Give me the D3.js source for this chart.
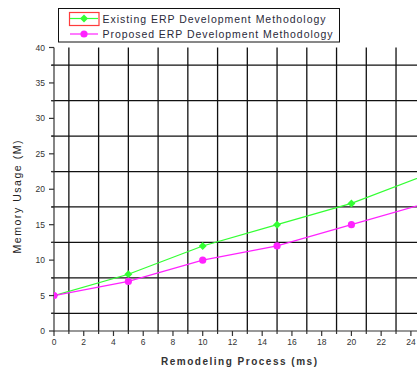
<!DOCTYPE html>
<html><head><meta charset="utf-8">
<script src="https://cdn.jsdelivr.net/npm/d3@7"></script>
<style>body{margin:0;background:#fff}svg{display:block}text{font-family:"Liberation Sans",Arial,sans-serif}</style>
</head><body><svg id="c" width="417" height="369"></svg>
<script>
const xValues = [0, 5, 10, 15, 20, 25];
const existing = [5, 8, 12, 15, 18, 22];
const proposed = [5, 7, 10, 12, 15, 18];
const seriesNames = ["Existing ERP Development Methodology", "Proposed ERP Development Methodology"];
const seriesColors = ["#33ff33", "#ff22ff"];
const xTicks = [0, 2, 4, 6, 8, 10, 12, 14, 16, 18, 20, 22, 24];
const yTicks = [0, 5, 10, 15, 20, 25, 30, 35, 40];
const xGrid = [1, 3, 5, 7, 9, 11, 13, 15, 17, 19, 21, 23];
const yGrid = [2.5, 7.5, 12.5, 17.5, 22.5, 27.5, 32.5, 37.5];

const svg = d3.select("#c");
const x = d3.scaleLinear().domain([0, 24]).range([54, 410.9]);
const y = d3.scaleLinear().domain([0, 40]).range([331, 47.5]);
const xr = 417;

svg.append("clipPath").attr("id", "pc").append("rect")
  .attr("x", 54).attr("y", 44).attr("width", xr - 54).attr("height", 290);

// grid
const g = svg.append("g");
g.selectAll(".vg").data(xGrid).join("line")
  .attr("x1", d => x(d)).attr("x2", d => x(d)).attr("y1", y(40)).attr("y2", y(0))
  .attr("stroke", "#111").attr("stroke-width", 1.3);
g.selectAll(".hg").data(yGrid).join("line")
  .attr("x1", 51.5).attr("x2", xr).attr("y1", d => y(d)).attr("y2", d => y(d))
  .attr("stroke", "#111").attr("stroke-width", 1.3);

// axes
const ax = svg.append("g").attr("stroke", "#333").attr("stroke-width", 1.2);
ax.append("line").attr("x1", 54).attr("x2", 54).attr("y1", y(40)).attr("y2", y(0) + 0.6);
ax.append("line").attr("x1", 54).attr("x2", xr).attr("y1", y(0)).attr("y2", y(0));
yTicks.forEach(v => ax.append("line").attr("x1", 49).attr("x2", 54).attr("y1", y(v)).attr("y2", y(v)));
yGrid.forEach(v => ax.append("line").attr("x1", 51).attr("x2", 54).attr("y1", y(v)).attr("y2", y(v)));
xTicks.forEach(v => ax.append("line").attr("x1", x(v)).attr("x2", x(v)).attr("y1", y(0)).attr("y2", y(0) + 5));
xGrid.forEach(v => ax.append("line").attr("x1", x(v)).attr("x2", x(v)).attr("y1", y(0)).attr("y2", y(0) + 3));

svg.selectAll(".yl").data(yTicks).join("text")
  .attr("x", 45).attr("y", d => y(d) + 3).attr("text-anchor", "end")
  .attr("font-size", 8.5).attr("fill", "#333").text(d => d);
svg.selectAll(".xl").data(xTicks).join("text")
  .attr("x", d => x(d)).attr("y", 345).attr("text-anchor", "middle")
  .attr("font-size", 8.5).attr("fill", "#333").text(d => d);

svg.append("text").attr("x", 239).attr("y", 365).attr("text-anchor", "middle")
  .attr("font-size", 10).attr("font-weight", "bold").attr("fill", "#333").attr("textLength", 156).attr("lengthAdjust", "spacing")
  .text("Remodeling Process (ms)");
svg.append("text").attr("transform", "translate(21,197) rotate(-90)").attr("text-anchor", "middle")
  .attr("font-size", 10.5).attr("fill", "#222").attr("textLength", 113).attr("lengthAdjust", "spacing")
  .text("Memory Usage (M)");

// series
const data = [existing, proposed];
const plot = svg.append("g").attr("clip-path", "url(#pc)");
const line = d3.line().x((d, i) => x(xValues[i])).y(d => y(d));
data.forEach((s, k) => {
  plot.append("path").attr("d", line(s)).attr("fill", "none")
    .attr("stroke", seriesColors[k]).attr("stroke-width", 1.2);
});
plot.selectAll(".m0").data(existing).join("path")
  .attr("transform", (d, i) => `translate(${x(xValues[i])},${y(d)})`)
  .attr("d", d3.symbol(d3.symbolDiamond2, 40)).attr("fill", seriesColors[0]);
plot.selectAll(".m1").data(proposed).join("circle")
  .attr("cx", (d, i) => x(xValues[i])).attr("cy", d => y(d)).attr("r", 3.6)
  .attr("fill", seriesColors[1]);

// legend
const lg = svg.append("g");
lg.append("rect").attr("x", 58.5).attr("y", 8.5).attr("width", 281).attr("height", 33.5)
  .attr("fill", "#fff").attr("stroke", "#111").attr("stroke-width", 1);
lg.append("rect").attr("x", 69.5).attr("y", 12.5).attr("width", 29.5).attr("height", 13)
  .attr("fill", "none").attr("stroke", "#ff3b3b").attr("stroke-width", 1.2);
const rowsY = [18.5, 34];
seriesNames.forEach((n, k) => {
  lg.append("line").attr("x1", 70).attr("x2", 98).attr("y1", rowsY[k]).attr("y2", rowsY[k])
    .attr("stroke", seriesColors[k]).attr("stroke-width", 1.2);
  if (k === 0) lg.append("path").attr("transform", `translate(84,${rowsY[k]})`)
    .attr("d", d3.symbol(d3.symbolDiamond2, 40)).attr("fill", seriesColors[k]);
  else lg.append("circle").attr("cx", 84).attr("cy", rowsY[k]).attr("r", 3.6).attr("fill", seriesColors[k]);
  lg.append("text").attr("x", 102.5).attr("y", rowsY[k] + 4).attr("font-size", 10.5).attr("fill", "#2a2a3a")
    .attr("textLength", k === 0 ? 223 : 230).attr("lengthAdjust", "spacing").text(n);
});
</script></body></html>
